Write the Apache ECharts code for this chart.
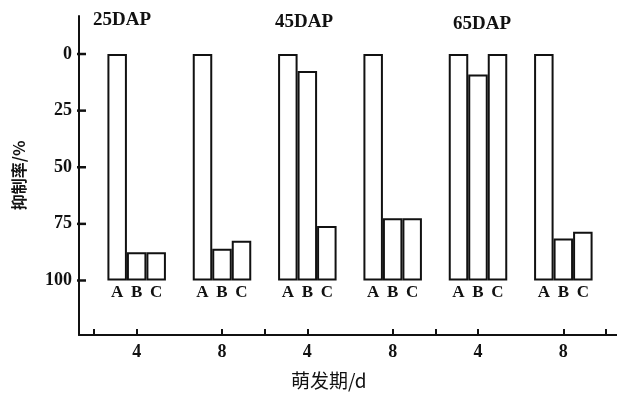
<!DOCTYPE html>
<html>
<head>
<meta charset="utf-8">
<script src="https://cdn.jsdelivr.net/npm/echarts@6/dist/echarts.min.js"></script>
<style>
  html, body { margin: 0; padding: 0; background: #fff; }
  #chart { width: 617px; height: 394px; }
</style>
</head>
<body>
<div id="chart"></div>
<script>
// Germination period (days) for each stage group
const periods = ['4', '8', '4', '8', '4', '8'];
// Stage labels drawn above the groups
const stages = ['25DAP', '45DAP', '65DAP'];
// Treatments
const treatments = ['A', 'B', 'C'];
// Inhibition rate (%) per treatment, one value per period group
const valuesA = [0, 0, 0, 0, 0, 0];
const valuesB = [87.5, 86, 7.5, 72.5, 9, 81.5];
const valuesC = [87.5, 82.5, 76, 72.5, 0, 78.5];
// Y ticks
const yTicks = [0, 25, 50, 75, 100];

const serif = '"Liberation Serif", "DejaVu Serif", serif';
const yMin = -16.8, yMax = 124.1, full = 100;

const seriesValues = [valuesA, valuesB, valuesC];
const series = [];
treatments.forEach((t, i) => {
  const vals = seriesValues[i];
  // transparent spacer from 0 down to the inhibition value
  series.push({
    type: 'bar', xAxisIndex: 1, yAxisIndex: 1, stack: t, barWidth: 19.5, barGap: '0%',
    data: vals, itemStyle: { color: 'rgba(0,0,0,0)' }, silent: true
  });
  // visible bar from the inhibition value down to 100
  series.push({
    type: 'bar', xAxisIndex: 1, yAxisIndex: 1, stack: t, barWidth: 19.5, barGap: '0%',
    name: t,
    data: vals.map(v => full - v),
    itemStyle: { color: '#fff', borderColor: '#111', borderWidth: 2 },
    label: {
      show: true, position: 'bottom', distance: 4,
      formatter: () => t,
      fontFamily: serif, fontSize: 17, fontWeight: 'bold', color: '#111'
    }
  });
});

// tick marks on the y axis: short horizontal bars on a dedicated category axis
const tickGrid = 2;
series.push({
  type: 'bar', xAxisIndex: 3, yAxisIndex: 2, silent: true,
  barWidth: 2.5,
  data: yTicks.map(() => 1),
  itemStyle: { color: '#111' }
});

const chart = echarts.init(document.getElementById('chart'));
chart.setOption({
  animation: false,
  backgroundColor: '#fff',
  grid: [
    { left: 79, right: 0, top: 16, bottom: 59 },        // frame
    { left: 94, right: 11, top: 16, bottom: 59 },       // bars
    { left: 77, width: 9, top: 25.7, bottom: 85.2 }     // y tick marks (0..100 in five slots)
  ],
  xAxis: [
    { // frame axis line
      type: 'value', gridIndex: 0, min: 0, max: 1, position: 'bottom',
      axisLine: { show: true, onZero: false, lineStyle: { color: '#111', width: 2 } },
      axisTick: { show: false }, axisLabel: { show: false }, splitLine: { show: false }
    },
    { // period labels and ticks at group centres
      type: 'category', gridIndex: 1, data: periods, position: 'bottom',
      axisLine: { show: false, onZero: false },
      axisTick: { show: true, alignWithLabel: true, inside: true, length: 6, lineStyle: { color: '#111', width: 2 } },
      axisLabel: { fontFamily: serif, fontSize: 18, fontWeight: 'bold', color: '#111', margin: 8 }
    },
    { // stage separator ticks
      type: 'category', gridIndex: 1, data: periods, position: 'bottom',
      axisLine: { show: false, onZero: false },
      axisTick: { show: true, inside: true, length: 6, interval: (idx) => idx % 2 === 0, lineStyle: { color: '#111', width: 2 } },
      axisLabel: { show: false }
    },
    { // tick-mark length axis
      type: 'value', gridIndex: tickGrid, min: 0, max: 1, show: false
    }
  ],
  yAxis: [
    {
      type: 'value', gridIndex: 0, inverse: true, min: yMin, max: yMax,
      name: '抑制率/%', nameLocation: 'middle', nameGap: 52, nameRotate: 90,
      nameTextStyle: { fontFamily: '"Noto Sans CJK SC", sans-serif', fontSize: 16, fontWeight: 'bold', color: '#111' },
      axisLine: { show: true, onZero: false, lineStyle: { color: '#111', width: 2 } },
      axisTick: { show: false },
      axisLabel: { customValues: yTicks, fontFamily: serif, fontSize: 18, fontWeight: 'bold', color: '#111', margin: 7 },
      splitLine: { show: false }
    },
    {
      type: 'value', gridIndex: 1, inverse: true, min: yMin, max: yMax, show: false
    },
    {
      type: 'category', gridIndex: tickGrid, inverse: true, data: yTicks, show: false
    }
  ],
  graphic: [
    { type: 'text', left: 93, top: 11, style: { text: stages[0], font: 'bold 19px ' + serif, fill: '#111' } },
    { type: 'text', left: 275, top: 13, style: { text: stages[1], font: 'bold 19px ' + serif, fill: '#111' } },
    { type: 'text', left: 453, top: 15, style: { text: stages[2], font: 'bold 19px ' + serif, fill: '#111' } },
    { type: 'text', left: 291, top: 371, style: { text: '萌发期/d', font: '19px "Noto Sans CJK SC", sans-serif', fill: '#111' } }
  ],
  series: series
});
</script>
</body>
</html>
